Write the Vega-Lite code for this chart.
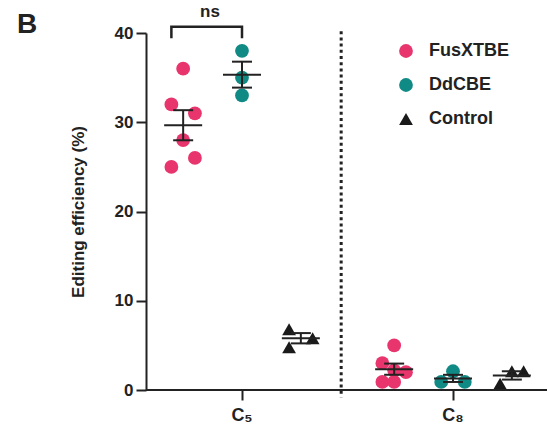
{
  "$schema": "https://vega.github.io/schema/vega-lite/v6.json",
  "width": 401,
  "height": 357,
  "autosize": {"type": "none"},
  "padding": {"left": 146, "top": 33, "right": 0, "bottom": 42},
  "background": "white",
  "config": {
    "font": "Liberation Sans",
    "view": {"stroke": null},
    "axis": {"grid": false}
  },
  "title": {
    "text": "B",
    "anchor": "start",
    "frame": "group",
    "fontSize": 28,
    "fontWeight": "bold",
    "color": "#222222",
    "baseline": "alphabetic",
    "dx": -129,
    "dy": 58,
    "offset": 0
  },
  "datasets": {
    "points": [
      {"site": "C₅", "group": "FusXTBE", "value": 36, "col": 0},
      {"site": "C₅", "group": "FusXTBE", "value": 32, "col": -1},
      {"site": "C₅", "group": "FusXTBE", "value": 31, "col": 1},
      {"site": "C₅", "group": "FusXTBE", "value": 28, "col": 0},
      {"site": "C₅", "group": "FusXTBE", "value": 26, "col": 1},
      {"site": "C₅", "group": "FusXTBE", "value": 25, "col": -1},
      {"site": "C₅", "group": "DdCBE", "value": 38, "col": 0},
      {"site": "C₅", "group": "DdCBE", "value": 35, "col": 0},
      {"site": "C₅", "group": "DdCBE", "value": 33, "col": 0},
      {"site": "C₅", "group": "Control", "value": 6.8, "col": -1},
      {"site": "C₅", "group": "Control", "value": 4.8, "col": -1},
      {"site": "C₅", "group": "Control", "value": 5.8, "col": 1},
      {"site": "C₈", "group": "FusXTBE", "value": 5.0, "col": 0},
      {"site": "C₈", "group": "FusXTBE", "value": 3.0, "col": -1},
      {"site": "C₈", "group": "FusXTBE", "value": 2.2, "col": 0},
      {"site": "C₈", "group": "FusXTBE", "value": 2.0, "col": 1},
      {"site": "C₈", "group": "FusXTBE", "value": 0.9, "col": -1},
      {"site": "C₈", "group": "FusXTBE", "value": 0.9, "col": 0},
      {"site": "C₈", "group": "DdCBE", "value": 2.1, "col": 0},
      {"site": "C₈", "group": "DdCBE", "value": 0.9, "col": -1},
      {"site": "C₈", "group": "DdCBE", "value": 0.9, "col": 1},
      {"site": "C₈", "group": "Control", "value": 0.7, "col": -1},
      {"site": "C₈", "group": "Control", "value": 2.1, "col": 0},
      {"site": "C₈", "group": "Control", "value": 2.1, "col": 1}
    ],
    "bracket": [
      {"site": "C₅", "group": "FusXTBE", "value": 39.4, "o": 1, "col": -1},
      {"site": "C₅", "group": "FusXTBE", "value": 40.7, "o": 2, "col": -1},
      {"site": "C₅", "group": "DdCBE", "value": 40.7, "o": 3, "col": 0},
      {"site": "C₅", "group": "DdCBE", "value": 39.4, "o": 4, "col": 0}
    ],
    "label": [
      {"site": "C₅", "group": "DdCBE", "value": 42.3, "text": "ns"}
    ]
  },
  "layer": [
    {
      "data": {"name": "points"},
      "transform": [
        {"calculate": "(indexof(['FusXTBE','DdCBE','Control'], datum.group) - 1) * 5 + datum.col", "as": "slot"}
      ],
      "mark": {"type": "point", "filled": true, "opacity": 1},
      "encoding": {
        "x": {
          "field": "site",
          "type": "nominal",
          "scale": {"domain": ["C₅", "C₈"], "range": [-9.5, 412.5], "paddingInner": 0, "paddingOuter": 0},
          "axis": {
            "title": null,
            "domain": false,
            "labelAngle": 0,
            "tickSize": 10,
            "tickWidth": 2,
            "tickColor": "#222222",
            "labelFontSize": 18,
            "labelFontWeight": "bold",
            "labelColor": "#222222",
            "labelPadding": 6
          }
        },
        "y": {
          "field": "value",
          "type": "quantitative",
          "scale": {"domain": [0, 40], "nice": false},
          "axis": {
            "values": [0, 10, 20, 30, 40],
            "title": "Editing efficiency (%)",
            "domainWidth": 2,
            "domainColor": "#222222",
            "tickWidth": 2,
            "tickColor": "#222222",
            "tickSize": 10,
            "labelFontSize": 17,
            "labelFontWeight": "bold",
            "labelColor": "#222222",
            "labelPadding": 3,
            "titleFontSize": 17,
            "titleFontWeight": "bold",
            "titleColor": "#222222",
            "titlePadding": 27
          }
        },
        "xOffset": {
          "field": "slot",
          "type": "ordinal",
          "scale": {"domain": [-6, -5, -4, -3, -2, -1, 0, 1, 2, 3, 4, 5, 6], "range": [29, 182], "paddingInner": 0, "paddingOuter": 0}
        },
        "color": {
          "field": "group",
          "type": "nominal",
          "scale": {"domain": ["FusXTBE", "DdCBE", "Control"], "range": ["#E8356D", "#108A84", "#1a1a1a"]},
          "legend": {
            "title": null,
            "orient": "none",
            "legendX": 251,
            "legendY": 9,
            "labelFont": "Liberation Sans",
            "labelFontSize": 18,
            "labelFontWeight": "bold",
            "labelColor": "#222222",
            "symbolSize": 190,
            "rowPadding": 16,
            "labelOffset": 14,
            "symbolOpacity": 1,
            "symbolStrokeWidth": 0
          }
        },
        "shape": {
          "field": "group",
          "type": "nominal",
          "scale": {"domain": ["FusXTBE", "DdCBE", "Control"], "range": ["circle", "circle", "triangle-up"]},
          "legend": {
            "title": null,
            "orient": "none",
            "legendX": 251,
            "legendY": 9,
            "labelFont": "Liberation Sans",
            "labelFontSize": 18,
            "labelFontWeight": "bold",
            "labelColor": "#222222",
            "symbolSize": 190,
            "rowPadding": 16,
            "labelOffset": 14,
            "symbolOpacity": 1,
            "symbolStrokeWidth": 0
          }
        },
        "size": {
          "field": "group",
          "type": "nominal",
          "scale": {"domain": ["FusXTBE", "DdCBE", "Control"], "range": [190, 190, 150]},
          "legend": null
        }
      }
    },
    {
      "data": {"values": [{}]},
      "mark": {"type": "rule", "color": "#222222", "strokeWidth": 3, "strokeDash": [3, 3.2]},
      "encoding": {
        "x": {"datum": "C₅", "bandPosition": 0.97},
        "y": {"datum": 40.2},
        "y2": {"datum": -0.8}
      }
    },
    {
      "data": {"values": [{}]},
      "mark": {"type": "rule", "color": "#222222", "strokeWidth": 2},
      "encoding": {"y": {"datum": 0}}
    },
    {
      "data": {"name": "points"},
      "transform": [
        {"aggregate": [{"op": "mean", "field": "value", "as": "mean"}, {"op": "stderr", "field": "value", "as": "se"}], "groupby": ["site", "group"]},
        {"calculate": "datum.mean - datum.se", "as": "lo"},
        {"calculate": "datum.mean + datum.se", "as": "hi"},
        {"calculate": "(indexof(['FusXTBE','DdCBE','Control'], datum.group) - 1) * 5", "as": "slot"}
      ],
      "encoding": {
        "x": {"field": "site", "type": "nominal"},
        "xOffset": {"field": "slot", "type": "ordinal"}
      },
      "layer": [
        {
          "mark": {"type": "rule", "color": "#222222", "strokeWidth": 2},
          "encoding": {"y": {"field": "lo", "type": "quantitative"}, "y2": {"field": "hi"}}
        },
        {
          "mark": {"type": "tick", "color": "#222222", "thickness": 2, "size": 20, "opacity": 1},
          "encoding": {"y": {"field": "lo", "type": "quantitative"}}
        },
        {
          "mark": {"type": "tick", "color": "#222222", "thickness": 2, "size": 20, "opacity": 1},
          "encoding": {"y": {"field": "hi", "type": "quantitative"}}
        },
        {
          "mark": {"type": "tick", "color": "#222222", "thickness": 2, "size": 38, "opacity": 1},
          "encoding": {"y": {"field": "mean", "type": "quantitative"}}
        }
      ]
    },
    {
      "data": {"name": "bracket"},
      "transform": [
        {"calculate": "(indexof(['FusXTBE','DdCBE','Control'], datum.group) - 1) * 5 + datum.col", "as": "slot"}
      ],
      "mark": {"type": "line", "color": "#222222", "strokeWidth": 2.5, "clip": false},
      "encoding": {
        "x": {"field": "site", "type": "nominal"},
        "y": {"field": "value", "type": "quantitative"},
        "xOffset": {"field": "slot", "type": "ordinal"},
        "order": {"field": "o", "type": "quantitative"}
      }
    },
    {
      "data": {"name": "label"},
      "transform": [
        {"calculate": "(indexof(['FusXTBE','DdCBE','Control'], datum.group) - 1) * 5", "as": "slot"}
      ],
      "mark": {"type": "text", "color": "#222222", "fontSize": 17, "fontWeight": "bold", "dx": -32, "baseline": "middle"},
      "encoding": {
        "x": {"field": "site", "type": "nominal"},
        "y": {"field": "value", "type": "quantitative"},
        "xOffset": {"field": "slot", "type": "ordinal"},
        "text": {"field": "text"}
      }
    }
  ]
}
